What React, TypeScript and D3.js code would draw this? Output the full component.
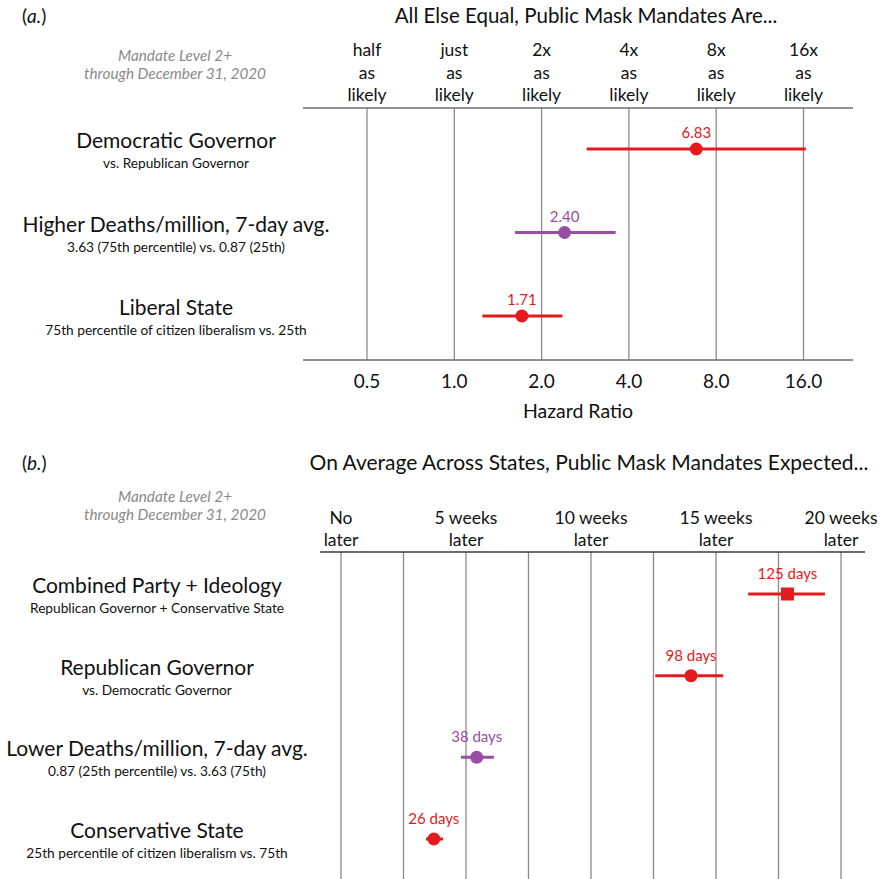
import React from 'react';
import * as d3 from 'd3';

// panel (a.) data
const topRows = ['Democratic Governor', 'Higher Deaths/million, 7-day avg.', 'Liberal State'];
const topSubs = ['vs. Republican Governor', '3.63 (75th percentile) vs. 0.87 (25th)', '75th percentile of citizen liberalism vs. 25th'];
const topEst = [6.83, 2.4, 1.71];
const topLo = [2.86, 1.62, 1.25];
const topHi = [16.3, 3.6, 2.36];
const topColor = ['red', 'purple', 'red'];
const topTicks = [0.5, 1, 2, 4, 8, 16];
const topTickLabels = ['0.5', '1.0', '2.0', '4.0', '8.0', '16.0'];
const topHead1 = ['half', 'just', '2x', '4x', '8x', '16x'];

// panel (b.) data
const botRows = ['Combined Party + Ideology', 'Republican Governor', 'Lower Deaths/million, 7-day avg.', 'Conservative State'];
const botSubs = ['Republican Governor + Conservative State', 'vs. Democratic Governor', '0.87 (25th percentile) vs. 3.63 (75th)', '25th percentile of citizen liberalism vs. 75th'];
const botEst = [125, 98, 38, 26];
const botLo = [114, 88, 33.6, 23.8];
const botHi = [135.5, 107, 42.8, 28.6];
const botColor = ['red', 'red', 'purple', 'red'];
const botShape = ['square', 'circle', 'circle', 'circle'];
const botGrid = [0, 17.5, 35, 52.5, 70, 87.5, 105, 122.5, 140];
const botHeadTicks = [0, 35, 70, 105, 140];
const botHead1 = ['No', '5 weeks', '10 weeks', '15 weeks', '20 weeks'];

const COLORS: Record<string, string> = { red: '#e41a1c', purple: '#984ea3' };
const FONT = 'Lato, "Open Sans", sans-serif';

const App: React.FC = () => {
  const W = 881;
  const H = 879;

  const xTop = d3.scaleLog().base(2).domain([0.5, 16]).range([367, 803.5]);
  const yTop = d3.scalePoint<string>().domain(topRows).range([149, 316]);
  const xBot = d3.scaleLinear().domain([0, 140]).range([341, 841]);
  const yBot = d3.scalePoint<string>().domain(botRows).range([594, 839]);

  const rowLabel = (label: string, sub: string, y: number, cx: number, key: string) => (
    <g key={key}>
      <text x={cx} y={y - 1} textAnchor="middle" fontSize={21} fill="#111">{label}</text>
      <text x={cx} y={y + 19} textAnchor="middle" fontSize={13.7} fill="#111">{sub}</text>
    </g>
  );

  const subtitle = (y: number) => (
    <g fill="#8a8a8a" fontStyle="italic" fontSize={15.3} textAnchor="middle">
      <text x={175} y={y}>Mandate Level 2+</text>
      <text x={175} y={y + 18}>through December 31, 2020</text>
    </g>
  );

  return (
    <div style={{ position: 'absolute', left: 0, top: 0 }}>
      <svg width={W} height={H} style={{ display: 'block', fontFamily: FONT }}>
        <rect width={W} height={H} fill="#fff" />

        {/* ---------- panel a ---------- */}
        <text x={22} y={23} fontSize={19} fill="#111">
          (<tspan fontStyle="italic">a.</tspan>)
        </text>
        <text x={586} y={23} textAnchor="middle" fontSize={20.5} fill="#111">
          All Else Equal, Public Mask Mandates Are...
        </text>
        {subtitle(61)}

        {topTicks.map((t, i) => (
          <g key={'th' + i} fontSize={17.5} textAnchor="middle" fill="#111">
            <text x={xTop(t)} y={56}>{topHead1[i]}</text>
            <text x={xTop(t)} y={79}>as</text>
            <text x={xTop(t)} y={101}>likely</text>
          </g>
        ))}

        {topTicks.map((t, i) => (
          <line key={'tg' + i} x1={xTop(t)} x2={xTop(t)} y1={108} y2={360} stroke="#8a8a8a" strokeWidth={1.3} />
        ))}
        <line x1={303} x2={853} y1={108} y2={108} stroke="#6e6e6e" strokeWidth={1.6} />
        <line x1={303} x2={853} y1={360} y2={360} stroke="#6e6e6e" strokeWidth={1.6} />

        {topTicks.map((t, i) => (
          <text key={'tl' + i} x={xTop(t)} y={388} textAnchor="middle" fontSize={19} fill="#111">
            {topTickLabels[i]}
          </text>
        ))}
        <text x={578} y={418} textAnchor="middle" fontSize={19.5} fill="#111">Hazard Ratio</text>

        {topRows.map((r, i) => rowLabel(r, topSubs[i], yTop(r)!, 176, 'trl' + i))}

        {topRows.map((r, i) => {
          const y = yTop(r)!;
          const c = COLORS[topColor[i]];
          return (
            <g key={'tp' + i}>
              <line x1={xTop(topLo[i])} x2={xTop(topHi[i])} y1={y} y2={y} stroke={c} strokeWidth={3} />
              <circle cx={xTop(topEst[i])} cy={y} r={6.5} fill={c} />
              <text x={xTop(topEst[i])} y={y - 11} textAnchor="middle" fontSize={15} fill={c}>
                {topEst[i].toFixed(2)}
              </text>
            </g>
          );
        })}

        {/* ---------- panel b ---------- */}
        <text x={22} y={470} fontSize={19} fill="#111">
          (<tspan fontStyle="italic">b.</tspan>)
        </text>
        <text x={589} y={470} textAnchor="middle" fontSize={21} fill="#111">
          On Average Across States, Public Mask Mandates Expected...
        </text>
        {subtitle(502)}

        {botHeadTicks.map((t, i) => (
          <g key={'bh' + i} fontSize={17.5} textAnchor="middle" fill="#111">
            <text x={xBot(t)} y={524}>{botHead1[i]}</text>
            <text x={xBot(t)} y={546}>later</text>
          </g>
        ))}

        {botGrid.map((t, i) => (
          <line key={'bg' + i} x1={xBot(t)} x2={xBot(t)} y1={552} y2={H} stroke="#8a8a8a" strokeWidth={1.3} />
        ))}
        <line x1={320} x2={865} y1={552} y2={552} stroke="#3a3a3a" strokeWidth={1.3} />

        {botRows.map((r, i) => rowLabel(r, botSubs[i], yBot(r)!, 157, 'brl' + i))}

        {botRows.map((r, i) => {
          const y = yBot(r)!;
          const c = COLORS[botColor[i]];
          const x = xBot(botEst[i]);
          return (
            <g key={'bp' + i}>
              <line x1={xBot(botLo[i])} x2={xBot(botHi[i])} y1={y} y2={y} stroke={c} strokeWidth={3} />
              {botShape[i] === 'square' ? (
                <rect x={x - 6.5} y={y - 6.5} width={13} height={13} fill={c} />
              ) : (
                <circle cx={x} cy={y} r={6.5} fill={c} />
              )}
              <text x={x} y={y - 15} textAnchor="middle" fontSize={15} fill={c}>
                {botEst[i]} days
              </text>
            </g>
          );
        })}
      </svg>
    </div>
  );
};

export default App;
